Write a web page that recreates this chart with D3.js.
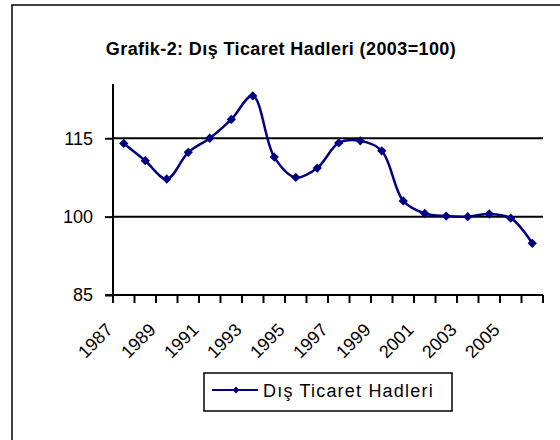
<!DOCTYPE html>
<html>
<head>
<meta charset="utf-8">
<script src="https://d3js.org/d3.v7.min.js"></script>
<style>
  body { margin: 0; background: #fff; }
  text { font-family: "Liberation Sans", Arial, sans-serif; }
</style>
</head>
<body>
<div id="chart"></div>
<script>
// yıllar ve dış ticaret hadleri endeksi (2003=100)
var years = [1987, 1988, 1989, 1990, 1991, 1992, 1993, 1994, 1995, 1996,
             1997, 1998, 1999, 2000, 2001, 2002, 2003, 2004, 2005, 2006];
var hadler = [114.0, 110.7, 107.2, 112.3, 115.0, 118.6, 123.1, 111.4, 107.5, 109.3,
              114.1, 114.5, 112.6, 103.0, 100.6, 100.1, 100.0, 100.5, 99.7, 94.9];
var yTicks = [85, 100, 115];
var xLabels = [1987, 1989, 1991, 1993, 1995, 1997, 1999, 2001, 2003, 2005];
var title = "Grafik-2: Dış Ticaret Hadleri (2003=100)";
var seriesName = "Dış Ticaret Hadleri";

var width = 560, height = 440;
var plotL = 113, plotR = 543, plotT = 86, plotB = 295;
var navy = "#000080";

var svg = d3.select("#chart").append("svg")
    .attr("width", width)
    .attr("height", height);

// dış çerçeve
svg.append("rect")
    .attr("x", 12).attr("y", 5)
    .attr("width", 560).attr("height", 460)
    .attr("fill", "none")
    .attr("stroke", "#000")
    .attr("stroke-width", 1.5);

svg.append("text")
    .attr("x", 281).attr("y", 55)
    .attr("text-anchor", "middle")
    .style("font-size", "18px")
    .style("font-weight", "bold")
    .style("letter-spacing", "0.4px")
    .text(title);

var x = d3.scaleBand()
    .domain(years)
    .range([plotL, plotR])
    .padding(0);

var y = d3.scaleLinear()
    .domain([85, 125])
    .range([plotB, plotT]);

// yatay kılavuz çizgileri
svg.append("g")
  .selectAll("line")
  .data(yTicks.slice(1))
  .enter().append("line")
    .attr("x1", plotL).attr("x2", plotR)
    .attr("y1", function(d) { return y(d); })
    .attr("y2", function(d) { return y(d); })
    .attr("stroke", "#000")
    .attr("stroke-width", 2);

// y ekseni
var yAxis = svg.append("g")
    .attr("transform", "translate(" + plotL + ",0)")
    .call(d3.axisLeft(y).tickValues(yTicks).tickSize(8).tickPadding(12).tickFormat(d3.format("d")));
yAxis.select(".domain").remove();
yAxis.selectAll(".tick line").attr("stroke-width", 2);
yAxis.selectAll(".tick text")
    .style("font-size", "18px")
    .style("font-family", "'Liberation Sans', Arial, sans-serif")
    .attr("fill", "#000");
svg.append("line")
    .attr("x1", plotL).attr("x2", plotL)
    .attr("y1", y(85)).attr("y2", plotT - 2)
    .attr("stroke", "#000").attr("stroke-width", 2);

// x ekseni: kategori sınırlarında çentikler
var edges = years.map(function(d) { return x(d); }).concat([plotR]);
svg.append("line")
    .attr("x1", plotL - 8).attr("x2", plotR)
    .attr("y1", plotB).attr("y2", plotB)
    .attr("stroke", "#000").attr("stroke-width", 2);
svg.append("g")
  .selectAll("line")
  .data(edges)
  .enter().append("line")
    .attr("x1", function(d) { return d; })
    .attr("x2", function(d) { return d; })
    .attr("y1", plotB).attr("y2", plotB + 8)
    .attr("stroke", "#000").attr("stroke-width", 2);

svg.append("g")
  .selectAll("text")
  .data(xLabels)
  .enter().append("text")
    .attr("text-anchor", "end")
    .attr("transform", function(d) {
        var cx = x(d) + x.bandwidth() / 2 - 10;
        return "translate(" + cx + "," + (plotB + 36) + ") rotate(-45)";
    })
    .style("font-size", "18px")
    .text(function(d) { return d; });

// seri çizgisi
var pts = years.map(function(d, i) { return [x(d) + x.bandwidth() / 2, y(hadler[i])]; });
svg.append("path")
    .datum(pts)
    .attr("d", d3.line().curve(d3.curveCatmullRom.alpha(0.5)))
    .attr("fill", "none")
    .attr("stroke", navy)
    .attr("stroke-width", 2.5);

var diamond = d3.symbol().type(d3.symbolDiamond2).size(55);
svg.append("g")
  .selectAll("path")
  .data(pts)
  .enter().append("path")
    .attr("d", diamond)
    .attr("transform", function(d) { return "translate(" + d[0] + "," + d[1] + ")"; })
    .attr("fill", navy);

// lejant
var lg = svg.append("g");
lg.append("rect")
    .attr("x", 204).attr("y", 373)
    .attr("width", 248).attr("height", 38)
    .attr("fill", "#fff")
    .attr("stroke", "#000")
    .attr("stroke-width", 1.5);
lg.append("line")
    .attr("x1", 212).attr("x2", 258)
    .attr("y1", 390).attr("y2", 390)
    .attr("stroke", navy).attr("stroke-width", 2);
lg.append("path")
    .attr("d", d3.symbol().type(d3.symbolDiamond2).size(30))
    .attr("transform", "translate(236,390)")
    .attr("fill", navy);
lg.append("text")
    .attr("x", 263).attr("y", 397)
    .style("font-size", "18px")
    .style("letter-spacing", "1.2px")
    .text(seriesName);
</script>
</body>
</html>
